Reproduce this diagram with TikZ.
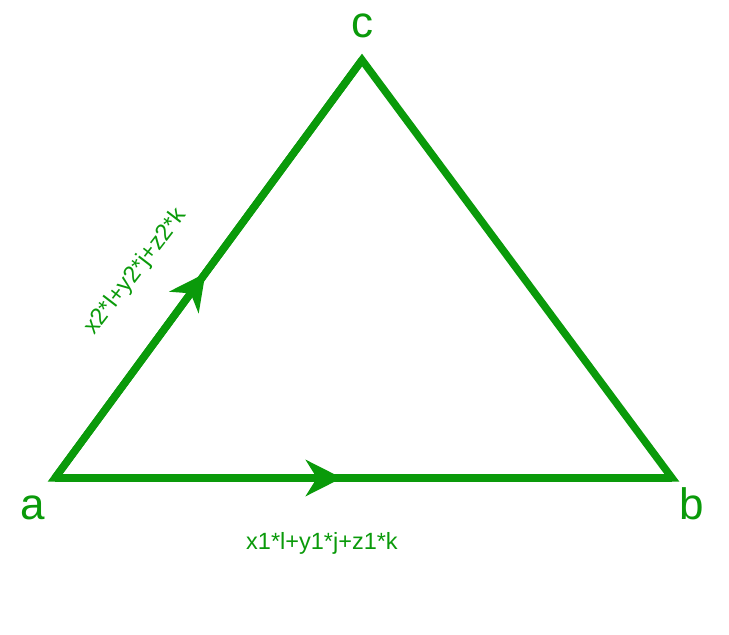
\documentclass[tikz,border=0pt]{standalone}
\usepackage{fontspec}
\setmainfont{Liberation Sans}
\usetikzlibrary{arrows.meta,decorations.markings}
\definecolor{gfg}{HTML}{0A9A0A}
\tikzset{
  edge/.style={draw=gfg, line width=7.5pt, line join=miter},
  midarrow/.style={postaction={decorate,decoration={markings,
     mark=at position #1 with {\arrow{Stealth[length=36pt,width=36pt,inset=11pt]}}}}},
  vlabel/.style={text=gfg, font=\fontsize{44}{44}\selectfont, inner sep=0pt},
  elabel/.style={text=gfg, font=\fontsize{23.5}{23.5}\selectfont, inner sep=0pt}
}
\begin{document}
\begin{tikzpicture}[x=1pt,y=1pt]
\useasboundingbox (0,0) rectangle (729,635);
\coordinate (a) at (55,157);
\coordinate (b) at (672,157);
\coordinate (c) at (362,575);
\draw[edge] (a) -- (b) -- (c) -- cycle;
\path[draw=gfg, line width=7.5pt, midarrow=0.465] (a) -- (b);
\path[draw=gfg, line width=7.5pt, midarrow=0.49] (a) -- (c);
\node[vlabel] (la) at (33,127) {a};
\node[vlabel] (lb) at (692,131) {b};
\node[vlabel] (lc) at (362,609) {c};
\node[elabel] (e1) at (322,92) {x1*l+y1*j+z1*k};
\node[elabel, rotate=52.5] (e2) at (136,363) {x2*l+y2*j+z2*k};
\end{tikzpicture}
\end{document}
